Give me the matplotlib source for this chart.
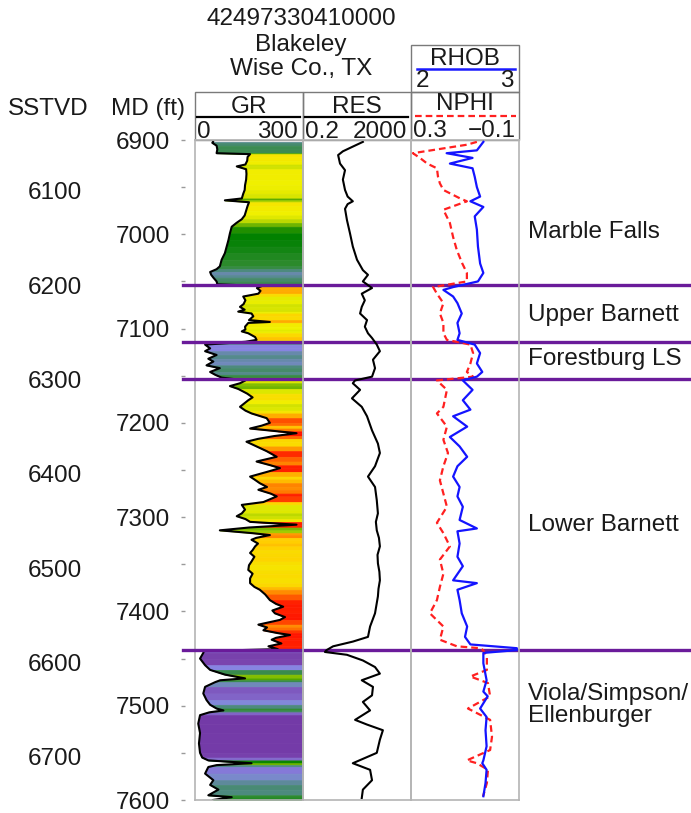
import matplotlib
matplotlib.use("Agg")
import matplotlib.pyplot as plt
from matplotlib.colors import LinearSegmentedColormap, Normalize
from matplotlib.lines import Line2D
from matplotlib.patches import Rectangle
from matplotlib.transforms import blended_transform_factory

plt.rcParams['font.family'] = ['Liberation Sans', 'DejaVu Sans']

# well header
WELL_API = "42497330410000"
WELL_NAME = "Blakeley"
WELL_LOC = "Wise Co., TX"
SSTVD_SHIFT = 854  # SSTVD = MD - shift

# formation tops (MD, ft)
tops_md = [7054, 7114, 7153, 7441]
formations = ["Marble Falls", "Upper Barnett", "Forestburg LS", "Lower Barnett",
              "Viola/Simpson/\nEllenburger"]
formation_label_md = [6998, 7086, 7132, 7308, 7499]

# gamma ray (API)
gr_md = [6902, 6903, 6906, 6910, 6914, 6915, 6918, 6922, 6926, 6928, 6931, 6936, 6942,
         6948, 6953, 6957, 6962, 6964, 6966, 6970, 6975, 6980, 6984, 6988, 6992, 6999,
         7006, 7013, 7020, 7027, 7034, 7037, 7040, 7043, 7046, 7050, 7053,
         7055, 7057, 7060, 7063, 7066, 7070, 7074, 7077, 7080, 7082, 7084, 7087, 7091,
         7093, 7094, 7098, 7101, 7103, 7105, 7109, 7112, 7114,
         7116, 7117, 7121, 7124, 7128, 7132, 7135, 7139, 7142, 7146, 7149, 7152,
         7155, 7158, 7161, 7164, 7169, 7173, 7176, 7180, 7183, 7187, 7190, 7195, 7200,
         7203, 7206, 7209, 7211, 7214, 7217, 7220, 7225, 7230, 7236, 7241, 7245, 7248,
         7252, 7257, 7260, 7264, 7268, 7271, 7275, 7278, 7284, 7287, 7292, 7296, 7299,
         7302, 7305, 7308, 7311, 7314, 7317, 7319, 7322, 7324, 7328, 7331, 7335, 7338,
         7342, 7347, 7351, 7356, 7360, 7365, 7370, 7374, 7377, 7382, 7388, 7392, 7395,
         7399, 7402, 7406, 7409, 7414, 7417, 7420, 7423, 7425, 7428, 7430, 7434, 7437,
         7440, 7442, 7444, 7450, 7457, 7462, 7467, 7471, 7473, 7475, 7480, 7487, 7494,
         7499, 7503, 7505, 7507, 7510, 7519, 7529, 7540, 7550, 7555, 7558, 7561, 7563,
         7565, 7572, 7579, 7584, 7589, 7595, 7597, 7600]
gr_api = [50, 48, 60, 62, 60, 153, 146, 145, 140, 116, 142, 143, 142,
          139, 138, 134, 130, 83, 150, 146, 142, 138, 130, 115, 102, 97,
          93, 88, 83, 74, 69, 60, 42, 45, 51, 60, 62,
          185, 172, 182, 176, 134, 140, 135, 125, 138, 120, 157, 162, 150,
          208, 148, 139, 140, 130, 148, 167, 171, 140,
          69, 28, 42, 28, 60, 37, 51, 32, 69, 42, 56, 74,
          140, 125, 97, 120, 145, 160, 148, 135, 125, 140, 157, 199, 208,
          185, 153, 230, 282, 220, 175, 143, 171, 199, 227, 171, 210, 236,
          200, 153, 165, 180, 200, 176, 210, 227, 190, 130, 139, 130, 116,
          140, 153, 282, 150, 69, 160, 208, 170, 157, 175, 167, 160, 153,
          165, 157, 150, 148, 160, 153, 153, 165, 180, 195, 208, 225, 245,
          215, 222, 250, 236, 176, 200, 190, 230, 264, 225, 213, 240, 204,
          230, 25, 23, 14, 28, 42, 83, 139, 70, 56, 28, 23, 32,
          42, 60, 79, 40, 14, 9, 14, 11, 14, 20, 37, 157, 60,
          37, 28, 51, 42, 65, 37, 102, 50]

# deep resistivity (ohm.m)
res_md = [6902, 6907, 6912, 6916, 6925, 6932, 6942, 6953, 6960, 6965, 6968, 6973, 6985,
          6999, 7013, 7027, 7038, 7043, 7050, 7057, 7063, 7070, 7077, 7084, 7091, 7098,
          7105, 7110, 7117, 7124, 7133, 7142, 7151, 7155, 7158, 7165, 7174, 7183, 7193,
          7208, 7222, 7232, 7246, 7257, 7268, 7282, 7296, 7305, 7314, 7322, 7331, 7340,
          7349, 7358, 7367, 7376, 7384, 7402, 7416, 7427, 7432, 7437, 7441, 7443, 7446,
          7452, 7459, 7466, 7473, 7480, 7489, 7496, 7505, 7515, 7520, 7526, 7536, 7550,
          7561, 7568, 7579, 7589, 7598]
res_ohmm = [33, 14, 6, 4, 4.7, 7.2, 6, 7.2, 9, 14, 9, 7.2, 8.5,
            11, 14, 20, 33, 51, 33, 72, 30, 39, 30, 26, 47, 39,
            51, 72, 108, 141, 78, 93, 72, 17, 14, 26, 13, 30, 47,
            72, 119, 141, 93, 51, 93, 108, 119, 100, 108, 130, 141, 115,
            119, 135, 141, 125, 119, 93, 61, 51, 14, 2.6, 1.5, 1.3, 8.5,
            33, 93, 141, 30, 78, 72, 33, 61, 17, 47, 182, 141, 108,
            14, 61, 72, 33, 30]

# bulk density (g/cc)
rhob_md = [6902, 6911, 6914, 6919, 6925, 6930, 6939, 6950, 6960, 6965, 6971, 6981, 6995,
           7013, 7031, 7041, 7050, 7056, 7059, 7066, 7073, 7084, 7094, 7105, 7112, 7117,
           7126, 7137, 7146, 7151, 7155, 7165, 7176, 7186, 7193, 7204, 7215, 7225, 7236,
           7246, 7257, 7268, 7278, 7289, 7303, 7312, 7315, 7328, 7342, 7352, 7367, 7370,
           7377, 7388, 7402, 7416, 7427, 7435, 7439, 7441, 7444, 7455, 7473, 7485, 7490,
           7503, 7512, 7526, 7543, 7558, 7561, 7568, 7582, 7596]
rhob_gcc = [2.67, 2.61, 2.33, 2.57, 2.36, 2.57, 2.59, 2.61, 2.64, 2.55, 2.67, 2.59, 2.61,
            2.62, 2.64, 2.67, 2.62, 2.39, 2.30, 2.39, 2.43, 2.47, 2.43, 2.45, 2.43, 2.59,
            2.64, 2.61, 2.66, 2.61, 2.48, 2.57, 2.48, 2.55, 2.39, 2.52, 2.36, 2.45, 2.52,
            2.43, 2.39, 2.45, 2.43, 2.48, 2.45, 2.61, 2.43, 2.45, 2.43, 2.48, 2.39, 2.61,
            2.43, 2.45, 2.47, 2.52, 2.50, 2.55, 2.98, 2.98, 2.67, 2.67, 2.70, 2.67, 2.71,
            2.64, 2.70, 2.69, 2.70, 2.67, 2.66, 2.70, 2.69, 2.67]

# neutron porosity (v/v)
nphi_md = [6902, 6905, 6914, 6919, 6925, 6930, 6939, 6946, 6953, 6962, 6965, 6974, 6988,
           7003, 7017, 7031, 7041, 7050, 7056, 7063, 7073, 7084, 7094, 7105, 7112, 7117,
           7126, 7137, 7146, 7151, 7155, 7165, 7183, 7190, 7204, 7218, 7232, 7246, 7261,
           7275, 7289, 7306, 7317, 7331, 7345, 7360, 7374, 7388, 7402, 7416, 7430, 7437,
           7439, 7441, 7448, 7462, 7469, 7476, 7490, 7503, 7515, 7533, 7547, 7558, 7561,
           7568, 7582, 7596]
nphi_vv = [0.056, 0.093, 0.293, 0.267, 0.240, 0.204, 0.200, 0.193, 0.180, 0.118, 0.093,
           0.180, 0.156, 0.144, 0.130, 0.110, 0.093, 0.093, 0.218, 0.204, 0.180, 0.193,
           0.180, 0.180, 0.167, 0.080, 0.070, 0.080, 0.093, 0.070, 0.204, 0.167, 0.180,
           0.204, 0.167, 0.180, 0.163, 0.180, 0.193, 0.180, 0.167, 0.204, 0.180, 0.156,
           0.193, 0.180, 0.193, 0.204, 0.230, 0.180, 0.193, 0.130, 0.044, 0.033, 0.019,
           0.019, 0.080, 0.015, 0.007, 0.089, 0.007, 0.000, 0.007, 0.093, 0.056, 0.015,
           0.019, 0.033]

MD_TOP, MD_BASE = 6900, 7600
W, H = 691, 813
FS = 17.5
INK = "#1a1a1a"
FRAME = "#b4b4b4"
TOP_COLOR = "#6a1b9a"

gr_cmap = LinearSegmentedColormap.from_list("gr", [
    (0.00, "#6b2fa0"), (20 / 300, "#7a44ae"), (35 / 300, "#8888e4"),
    (50 / 300, "#4e8a80"), (70 / 300, "#2e8b2e"), (95 / 300, "#008000"),
    (115 / 300, "#a8d000"), (140 / 300, "#f0f000"), (165 / 300, "#ffd000"),
    (185 / 300, "#ff9900"), (215 / 300, "#ff2200"), (1.00, "#ff0000")])
gr_norm = Normalize(0, 300)


def px_rect(x0, y0, x1, y1):
    """pixel box (origin top-left) -> figure fraction rect"""
    return [x0 / W, 1 - y1 / H, (x1 - x0) / W, (y1 - y0) / H]


fig = plt.figure(figsize=(W / 100, H / 100), dpi=100)

# overlay in pixel units for the header block
hdr = fig.add_axes([0, 0, 1, 1])
hdr.set_xlim(0, W)
hdr.set_ylim(H, 0)
hdr.axis("off")


def htext(x, y, s, ha="center"):
    hdr.text(x, y, s, ha=ha, va="baseline", fontsize=FS, color=INK)


htext(301, 25, WELL_API)
htext(301, 50.5, WELL_NAME)
htext(301, 75, WELL_LOC)
htext(8, 115, "SSTVD", ha="left")
htext(185, 115, "MD (ft)", ha="right")

for x0, y0, x1, y1 in [(195, 92, 303, 140), (303, 92, 411, 140),
                       (411, 92, 519, 140), (411, 45, 519, 92)]:
    hdr.add_patch(Rectangle((x0, y0), x1 - x0, y1 - y0, fill=False,
                            ec="#7a7a7a", lw=1))

htext(249, 113, "GR")
hdr.add_line(Line2D([197, 300], [117, 117], color="black", lw=1.6))
htext(197, 138, "0", ha="left")
htext(298, 138, "300", ha="right")

htext(357, 113, "RES")
hdr.add_line(Line2D([305, 408], [117, 117], color="black", lw=1.6))
htext(305, 138, "0.2", ha="left")
htext(407, 138, "2000", ha="right")

htext(465, 65, "RHOB")
hdr.add_line(Line2D([417, 515], [69, 69], color="#1a1aff", lw=1.8))
htext(416, 87, "2", ha="left")
htext(514, 87, "3", ha="right")

htext(465, 110, "NPHI")
hdr.add_line(Line2D([415, 516], [116, 116], color="#ff2020", lw=1.6,
                    dashes=(3, 1.8)))
htext(413, 137, "0.3", ha="left")
htext(516, 137, "\u22120.1", ha="right")

# tracks
ax_gr = fig.add_axes(px_rect(195, 140, 303, 800))
ax_res = fig.add_axes(px_rect(303, 140, 411, 800), sharey=ax_gr)
ax_nd = fig.add_axes(px_rect(411, 140, 519, 800), sharey=ax_gr)
ax_rh = ax_nd.twiny()

for ax in (ax_gr, ax_res, ax_nd, ax_rh):
    ax.set_facecolor("none")
    for sp in ax.spines.values():
        sp.set_color(FRAME)
        sp.set_linewidth(1.2)
ax_gr.set_ylim(MD_BASE, MD_TOP)

# GR filled towards 300, coloured by value
for i in range(len(gr_md) - 1):
    c = gr_cmap(gr_norm(0.5 * (gr_api[i] + gr_api[i + 1])))
    ax_gr.fill_betweenx(gr_md[i:i + 2], gr_api[i:i + 2], 300, color=c,
                        ec=c, lw=0.5)
ax_gr.plot(gr_api, gr_md, color="black", lw=1.5)
ax_gr.set_xlim(0, 300)

ax_res.set_xscale("log")
ax_res.plot(res_ohmm, res_md, color="black", lw=1.5)
ax_res.set_xlim(0.2, 2000)
ax_res.minorticks_off()

ax_nd.plot(nphi_vv, nphi_md, color="#ff2020", lw=1.6, dashes=(3, 1.8))
ax_nd.set_xlim(0.3, -0.1)
ax_rh.plot(rhob_gcc, rhob_md, color="#1414ff", lw=1.6)
ax_rh.set_xlim(2, 3)
for sp in ax_rh.spines.values():
    sp.set_visible(False)

for ax in (ax_gr, ax_res, ax_nd, ax_rh):
    ax.tick_params(which="both", left=False, labelleft=False, right=False,
                   labelright=False, bottom=False, labelbottom=False,
                   top=False, labeltop=False)

# MD scale
md_ax = ax_gr.secondary_yaxis(-10 / 108)
md_ax.set_yticks(range(MD_TOP, MD_BASE + 1, 100))
md_ax.set_yticks(range(MD_TOP + 50, MD_BASE, 100), minor=True)
md_ax.spines["left"].set_visible(False)
md_ax.tick_params(which="both", length=3, width=1, color="#9a9a9a",
                  labelsize=FS, labelcolor=INK, pad=8)

# SSTVD scale
tvd_ax = ax_gr.secondary_yaxis(-105 / 108, functions=(lambda md: md - SSTVD_SHIFT,
                                                      lambda tvd: tvd + SSTVD_SHIFT))
tvd_ax.set_yticks(range(6100, 6701, 100))
tvd_ax.spines["left"].set_visible(False)
tvd_ax.tick_params(which="both", length=0, labelsize=FS, labelcolor=INK, pad=6)
tvd_ax.minorticks_off()

# formation tops and names
for md in tops_md:
    ax_gr.axhline(md, xmin=-12 / 108, xmax=(W - 195) / 108, color=TOP_COLOR,
                  lw=2.4, clip_on=False, zorder=5)

lab_tr = blended_transform_factory(ax_nd.transAxes, ax_nd.transData)
for name, md in zip(formations, formation_label_md):
    ax_nd.text((528 - 411) / 108, md, name, transform=lab_tr, ha="left",
               va="center", fontsize=FS, color=INK, linespacing=1.0)

fig.savefig("out.png", dpi=100)
